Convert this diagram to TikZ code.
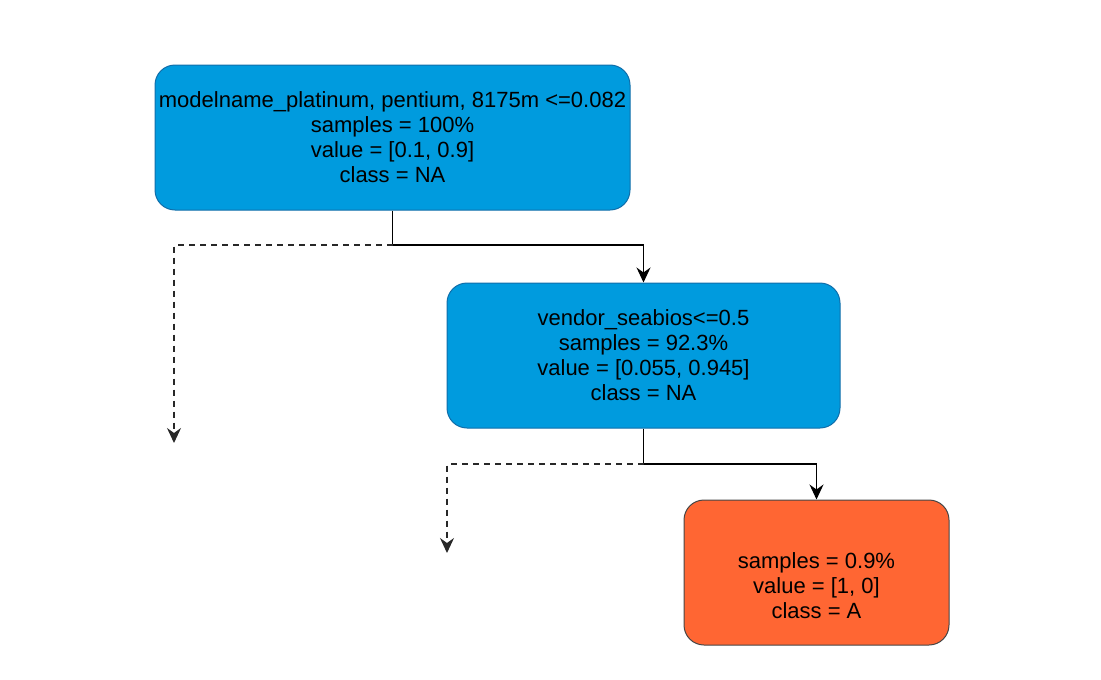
\documentclass[tikz,border=0pt]{standalone}
\usepackage{fontspec}
\setmainfont{Liberation Sans}
\usetikzlibrary{arrows.meta}
\definecolor{nodeblue}{RGB}{0,155,222}
\definecolor{blueedge}{RGB}{16,110,170}
\definecolor{nodeorange}{RGB}{255,102,51}
\definecolor{orangeedge}{RGB}{70,70,70}
\definecolor{dashgray}{RGB}{40,40,40}
\tikzset{
  treebox/.style={rounded corners=20pt, align=center, font=\fontsize{22}{25}\selectfont, inner sep=0pt, line width=1pt},
  bluebox/.style={treebox, fill=nodeblue, draw=blueedge},
  orangebox/.style={treebox, fill=nodeorange, draw=orangeedge},
  conn/.style={line width=1.3pt, black, -{Stealth[length=15pt,width=14pt,inset=5pt]}},
  dconn/.style={line width=1.3pt, dashgray, dash pattern=on 6pt off 5pt, -{Stealth[length=15pt,width=14pt,inset=5pt]}}
}
\begin{document}
\begin{tikzpicture}[x=1pt,y=-1pt]
\useasboundingbox (0,0) rectangle (1101,680);
\node[bluebox, minimum width=475pt, minimum height=145pt] (root) at (392.5,137.5)
  {modelname\_platinum, pentium, 8175m <=0.082\\samples = 100\%\\value = [0.1, 0.9]\\class = NA};
\node[bluebox, minimum width=393pt, minimum height=145pt] (vend) at (643.5,355.5)
  {vendor\_seabios<=0.5\\samples = 92.3\%\\value = [0.055, 0.945]\\class = NA};
\node[orangebox, minimum width=265pt, minimum height=145pt] (leaf) at (816.5,572.5)
  {\strut\\samples = 0.9\%\\value = [1, 0]\\class = A};
\coordinate (s1) at (392.5,245);
\coordinate (l1) at (174,443);
\coordinate (s2) at (643.5,464);
\coordinate (l2) at (447,553);
\draw[conn] (root.south) -- (s1) -| (vend.north);
\draw[dconn] (s1) -| (l1);
\draw[conn] (vend.south) -- (s2) -| (leaf.north);
\draw[dconn] (s2) -| (l2);
\end{tikzpicture}
\end{document}
